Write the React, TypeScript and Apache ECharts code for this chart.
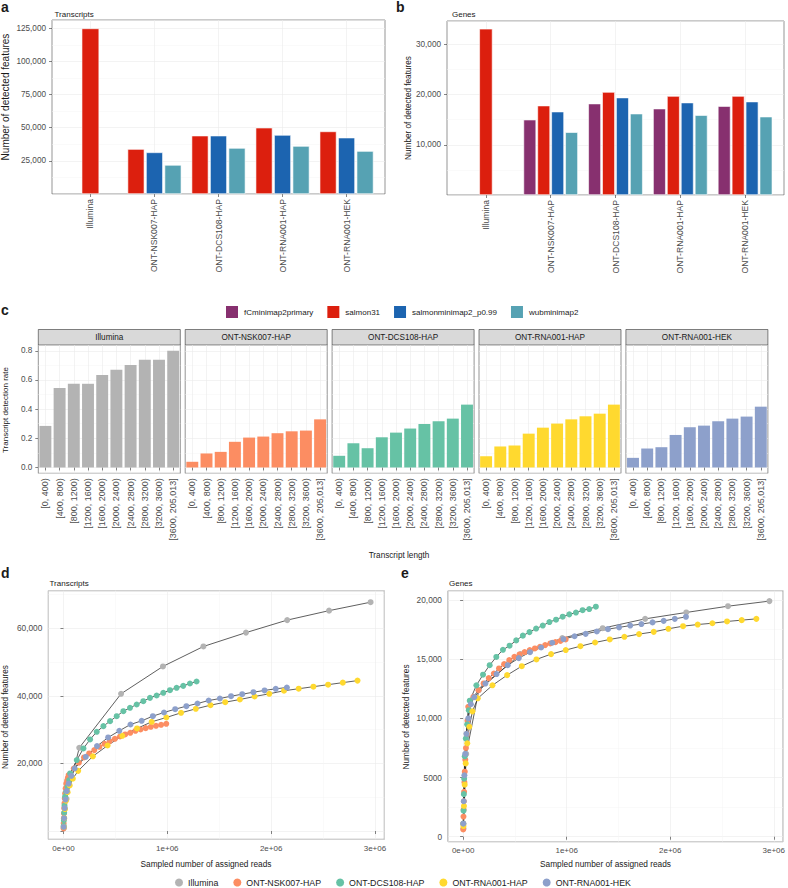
import React, { useEffect, useRef } from 'react';
import * as echarts from 'echarts';

const FONT = '"Liberation Sans", Arial, Helvetica, sans-serif';
const TXT = '#1A1A1A';
const TICKTXT = '#4D4D4D';

// ---------------- panels a & b ----------------
const sampleGroups = ['Illumina', 'ONT-NSK007-HAP', 'ONT-DCS108-HAP', 'ONT-RNA001-HAP', 'ONT-RNA001-HEK'];
const quantMethods = ['fCminimap2primary', 'salmon31', 'salmonminimap2_p0.99', 'wubminimap2'];
const methodColors = ['#87306F', '#DC1F0E', '#1C64B0', '#56A2B3'];

// transcripts (a) — '-' = method not run
const txSalmon31: any[] = [124900, 33900, 44000, 50000, 47200];
const txSalmonMinimap2: any[] = ['-', 31400, 44000, 44500, 42500];
const txWubminimap2: any[] = ['-', 21900, 34700, 36200, 32400];

// genes (b)
const geneFCminimap2: any[] = ['-', 15000, 18200, 17200, 17700];
const geneSalmon31: any[] = [33100, 17800, 20500, 19700, 19700];
const geneSalmonMinimap2: any[] = ['-', 16600, 19400, 18400, 18600];
const geneWubminimap2: any[] = ['-', 12500, 16200, 15900, 15600];

// ---------------- panel c ----------------
const lengthBins = ['[0, 400)', '[400, 800)', '[800, 1200)', '[1200, 1600)', '[1600, 2000)', '[2000, 2400)', '[2400, 2800)', '[2800, 3200)', '[3200, 3600)', '[3600, 205,013]'];
const rateIllumina = [0.285, 0.545, 0.574, 0.574, 0.634, 0.670, 0.702, 0.738, 0.738, 0.800];
const rateNSK007 = [0.039, 0.096, 0.107, 0.176, 0.205, 0.212, 0.235, 0.248, 0.253, 0.330];
const rateDCS108 = [0.080, 0.166, 0.132, 0.207, 0.239, 0.267, 0.298, 0.317, 0.335, 0.431];
const rateRNA001HAP = [0.077, 0.144, 0.150, 0.232, 0.273, 0.301, 0.330, 0.351, 0.369, 0.431];
const rateRNA001HEK = [0.066, 0.130, 0.139, 0.223, 0.276, 0.287, 0.317, 0.335, 0.349, 0.417];
const groupColors = ['#B3B3B3', '#FC8D62', '#66C2A5', '#FFD92F', '#8DA0CB'];

// ---------------- panels d & e ----------------
const readsIllumina = [3000, 30000, 152000, 555000, 958000, 1348000, 1758000, 2155000, 2558000, 2958000];
const txCurveIllumina = [800, 9500, 24600, 40600, 48700, 54600, 58700, 62400, 65200, 67700];
const geneCurveIllumina = [700, 7000, 12400, 15440, 16790, 17630, 18420, 18960, 19490, 19920];

const readsNSK007 = [1000, 2000, 3500, 5000, 7000, 9500, 12500, 16000, 21000, 27000, 35000, 42000, 49500, 99000, 148500, 198000, 247500, 297000, 346500, 396000, 445500, 495000, 544500, 594000, 643500, 693000, 742500, 792000, 841500, 891000, 940500, 990000];
const txCurveNSK007 = [790, 2270, 3740, 5220, 6700, 8180, 9650, 11130, 12610, 14000, 14900, 15700, 16550, 18500, 20190, 21770, 22950, 23940, 24920, 25810, 26600, 27280, 27970, 28570, 29060, 29650, 30040, 30440, 30830, 31130, 31420, 31720];
const geneCurveNSK007 = [620, 1100, 1700, 2300, 3000, 3800, 4600, 5500, 6500, 7500, 8700, 9800, 10990, 11830, 12390, 12960, 13410, 13800, 14230, 14590, 14930, 15210, 15410, 15610, 15780, 15920, 16060, 16200, 16340, 16450, 16560, 16680];

const readsDCS108 = [2000, 4000, 7000, 10000, 16000, 26000, 39000, 55000, 64100, 128200, 192300, 256400, 320500, 384600, 448700, 512800, 576900, 641000, 705100, 769200, 833300, 897400, 961500, 1025600, 1089700, 1153800, 1217900, 1282000];
const txCurveDCS108 = [1500, 3200, 5400, 7500, 10150, 11620, 13100, 15070, 17040, 20980, 24430, 27090, 29350, 31030, 32510, 33980, 35460, 36450, 37430, 38420, 39400, 40090, 40880, 41670, 42360, 42950, 43640, 44230];
const geneCurveDCS108 = [1100, 2200, 3600, 4900, 6800, 8300, 9500, 10700, 11500, 12800, 13700, 14500, 15200, 15800, 16150, 16600, 17000, 17300, 17600, 17850, 18150, 18350, 18600, 18800, 18950, 19150, 19250, 19450];

const readsRNA001HAP = [3000, 8000, 15000, 25000, 40000, 60000, 90000, 141600, 283200, 424800, 566400, 708000, 849600, 991200, 1132800, 1274400, 1416000, 1557600, 1699200, 1840800, 1982400, 2124000, 2265600, 2407200, 2548800, 2690400, 2832000];
const txCurveRNA001HAP = [1200, 3800, 6500, 9000, 11500, 13500, 15500, 17800, 22100, 25300, 28170, 30340, 32310, 33590, 34970, 36150, 37230, 38120, 38910, 39800, 40600, 41500, 42100, 42700, 43300, 43900, 44500];
const geneCurveRNA001HAP = [900, 2600, 4400, 6200, 7900, 9300, 10600, 11700, 12800, 13660, 14420, 14990, 15440, 15780, 16110, 16420, 16680, 16900, 17130, 17320, 17580, 17800, 17940, 18050, 18200, 18310, 18420];

const readsRNA001HEK = [2000, 6000, 12000, 20000, 32000, 50000, 75000, 107600, 215200, 322800, 430400, 538000, 645600, 753200, 860800, 968400, 1076000, 1183600, 1291200, 1398800, 1506400, 1614000, 1721600, 1829200, 1936800, 2044400, 2152000];
const txCurveRNA001HEK = [1200, 3800, 6800, 9300, 11800, 14000, 16300, 18500, 21960, 25120, 27680, 29650, 31520, 32600, 33980, 35070, 36050, 36940, 37730, 38610, 39200, 39890, 40480, 41070, 41600, 42070, 42460];
const geneCurveRNA001HEK = [1100, 3000, 5200, 7000, 8700, 10000, 11200, 11800, 12950, 13750, 14500, 15100, 15600, 16000, 16400, 16700, 16950, 17150, 17350, 17550, 17700, 17850, 17980, 18120, 18250, 18420, 18590];

// ---------------- helpers ----------------
const comma = (v: number) => Math.round(v).toLocaleString('en-US');
const tick = { show: true, length: 3, lineStyle: { color: '#333333', width: 0.6 } };
const major = { show: true, lineStyle: { color: '#EBEBEB', width: 0.6 } };
const minor = { show: true, lineStyle: { color: '#F4F4F4', width: 0.5 } };
const frame = { show: true, borderColor: '#4D4D4D', borderWidth: 0.6 };

function catAxis(gridIndex: number, data: string[], fontSize: number) {
  return {
    type: 'category', gridIndex, data,
    axisLine: { show: false },
    axisTick: { ...tick, alignWithLabel: true },
    axisLabel: { color: TICKTXT, fontFamily: FONT, fontSize, rotate: 90, margin: 5, interval: 0 },
    splitLine: { ...major, alignWithLabel: true, interval: 0 },
  };
}

function valAxis(gridIndex: number, opts: any, fontSize: number, formatter: any, showLabels = true) {
  return {
    type: 'value', gridIndex, ...opts,
    axisLine: { show: false },
    axisTick: showLabels ? tick : { show: false },
    axisLabel: { show: showLabels, color: TICKTXT, fontFamily: FONT, fontSize, margin: 6, formatter, showMinLabel: false, showMaxLabel: false },
    splitLine: major,
    minorTick: { show: false, splitNumber: 2 },
    minorSplitLine: minor,
  };
}

function text(t: string, x: number, y: number, size: number, extra: any = {}, rot = 0) {
  return {
    type: 'text', x, y, rotation: rot, silent: true,
    style: {
      text: t, fill: TXT, fontFamily: FONT, fontSize: size,
      align: extra.align || 'left', textAlign: extra.align || 'left',
      verticalAlign: 'middle', textVerticalAlign: 'middle',
      fontWeight: extra.bold ? 'bold' : 'normal',
    },
  };
}

function buildOption() {
  const grids: any[] = [];
  const xAxes: any[] = [];
  const yAxes: any[] = [];
  const series: any[] = [];
  const graphics: any[] = [];
  const barBorder = { borderColor: '#FFFFFF', borderWidth: 0.6 };

  // ---- panel a ----
  const aMax = 131250;
  grids.push({ left: 52, top: 20, width: 333, height: 174, ...frame });
  grids.push({ left: 58.4, top: 20, width: 320.2, height: 174 });
  xAxes.push({ type: 'value', gridIndex: 0, min: 0, max: 1, show: false });
  xAxes.push(catAxis(1, sampleGroups, 8.6));
  xAxes.push({ type: 'category', gridIndex: 1, data: sampleGroups, show: false });
  yAxes.push(valAxis(0, { min: 0, max: aMax, interval: 25000 }, 8.2, comma));
  yAxes.push({ type: 'value', gridIndex: 1, min: 0, max: aMax, show: false });
  const aSets = [txSalmon31, txSalmonMinimap2, txWubminimap2];
  aSets.forEach((arr, k) => {
    series.push({
      type: 'bar', name: quantMethods[k + 1], xAxisIndex: 1, yAxisIndex: 1,
      data: arr.map((v, i) => (i === 0 ? '-' : v)), barGap: '10%', barCategoryGap: '16%',
      itemStyle: { color: methodColors[k + 1], ...barBorder },
    });
  });
  series.push({
    type: 'bar', name: 'salmon31', xAxisIndex: 2, yAxisIndex: 1,
    data: txSalmon31.map((v, i) => (i === 0 ? v : '-')), barWidth: 17.5,
    itemStyle: { color: methodColors[1], ...barBorder },
  });

  // ---- panel b ----
  const bMax = 34650;
  grids.push({ left: 447, top: 21, width: 337, height: 174, ...frame });
  grids.push({ left: 453.5, top: 21, width: 324, height: 174 });
  xAxes.push({ type: 'value', gridIndex: 2, min: 0, max: 1, show: false });
  xAxes.push(catAxis(3, sampleGroups, 8.6));
  xAxes.push({ type: 'category', gridIndex: 3, data: sampleGroups, show: false });
  yAxes.push(valAxis(2, { min: 0, max: bMax, interval: 10000 }, 8.2, comma));
  yAxes.push({ type: 'value', gridIndex: 3, min: 0, max: bMax, show: false });
  const bSets = [geneFCminimap2, geneSalmon31, geneSalmonMinimap2, geneWubminimap2];
  bSets.forEach((arr, k) => {
    series.push({
      type: 'bar', name: quantMethods[k], xAxisIndex: 4, yAxisIndex: 3,
      data: arr.map((v, i) => (i === 0 ? '-' : v)), barGap: '10%', barCategoryGap: '16%',
      itemStyle: { color: methodColors[k], ...barBorder },
    });
  });
  series.push({
    type: 'bar', name: 'salmon31', xAxisIndex: 5, yAxisIndex: 3,
    data: geneSalmon31.map((v, i) => (i === 0 ? v : '-')), barWidth: 13.2,
    itemStyle: { color: methodColors[1], ...barBorder },
  });

  // ---- panel c (facets) ----
  const rates = [rateIllumina, rateNSK007, rateDCS108, rateRNA001HAP, rateRNA001HEK];
  const facetLefts = [38.3, 185.2, 332.1, 479, 625.9];
  const facetW = 142;
  const facetTop = 345;
  const facetH = 128.3;
  rates.forEach((arr, i) => {
    grids.push({ left: facetLefts[i], top: facetTop, width: facetW, height: facetH, ...frame });
    xAxes.push(catAxis(4 + i, lengthBins, 9));
    yAxes.push(valAxis(4 + i, { min: -0.04, max: 0.84, splitNumber: 5 }, 8.2, (v: number) => v.toFixed(1), i === 0));
    series.push({
      type: 'bar', name: 'rate ' + sampleGroups[i], xAxisIndex: 6 + i, yAxisIndex: 4 + i,
      data: arr, barCategoryGap: '16%', itemStyle: { color: groupColors[i] },
    });
    graphics.push({
      type: 'rect', silent: true,
      shape: { x: facetLefts[i], y: 329.5, width: facetW, height: 15.5 },
      style: { fill: '#D9D9D9', stroke: '#333333', lineWidth: 0.6 },
    });
    graphics.push(text(sampleGroups[i], facetLefts[i] + facetW / 2, 337.4, 8.2, { align: 'center' }));
  });

  // ---- panels d & e ----
  const curves = [
    { name: sampleGroups[0], reads: readsIllumina, tx: txCurveIllumina, genes: geneCurveIllumina, color: groupColors[0] },
    { name: sampleGroups[1], reads: readsNSK007, tx: txCurveNSK007, genes: geneCurveNSK007, color: groupColors[1] },
    { name: sampleGroups[2], reads: readsDCS108, tx: txCurveDCS108, genes: geneCurveDCS108, color: groupColors[2] },
    { name: sampleGroups[3], reads: readsRNA001HAP, tx: txCurveRNA001HAP, genes: geneCurveRNA001HAP, color: groupColors[3] },
    { name: sampleGroups[4], reads: readsRNA001HEK, tx: txCurveRNA001HEK, genes: geneCurveRNA001HEK, color: groupColors[4] },
  ];
  const sciFmt = (v: number) => (v === 0 ? '0e+00' : `${Math.round(v / 1e6)}e+06`);
  // d
  grids.push({ left: 48.3, top: 590.7, width: 336, height: 248.6, ...frame });
  xAxes.push(valAxis(9, { min: -146000, max: 3090000, splitNumber: 3 }, 8, sciFmt));
  yAxes.push(valAxis(9, { min: -2450, max: 71100, splitNumber: 4 }, 8.3, (v: number) => (v === 0 ? '' : comma(v))));
  // e
  grids.push({ left: 448, top: 590.7, width: 335.3, height: 251, ...frame });
  xAxes.push(valAxis(10, { min: -146000, max: 3090000, splitNumber: 3 }, 8, sciFmt));
  yAxes.push(valAxis(10, { min: -420, max: 20800, splitNumber: 5 }, 8.3, (v: number) => (v >= 10000 ? comma(v) : String(v))));
  xAxes[11].axisLabel.margin = 5;
  xAxes[12].axisLabel.margin = 5;

  [[11, 9, 'tx'], [12, 10, 'genes']].forEach(([xi, yi, key]: any) => {
    curves.forEach((c: any) => {
      series.push({
        type: 'line', name: c.name + ' path', xAxisIndex: xi, yAxisIndex: yi,
        data: c.reads.map((r: number, i: number) => [r, c[key][i]]),
        showSymbol: false, symbol: 'none', silent: true, z: 2,
        lineStyle: { color: '#1A1A1A', width: 0.7 },
      });
    });
    curves.forEach((c: any) => {
      series.push({
        type: 'scatter', name: c.name, xAxisIndex: xi, yAxisIndex: yi,
        data: c.reads.map((r: number, i: number) => [r, c[key][i]]),
        symbolSize: 6, z: 3, itemStyle: { color: c.color, opacity: 1 },
      });
    });
  });

  // ---- texts ----
  graphics.push(text('a', 1, 7, 14, { bold: true }));
  graphics.push(text('b', 396, 7, 14, { bold: true }));
  graphics.push(text('c', 1, 310, 14, { bold: true }));
  graphics.push(text('d', 1, 573, 14, { bold: true }));
  graphics.push(text('e', 401, 573, 14, { bold: true }));
  graphics.push(text('Transcripts', 54.5, 14, 8));
  graphics.push(text('Genes', 452, 14, 8));
  graphics.push(text('Transcripts', 49.5, 583, 8));
  graphics.push(text('Genes', 449, 583, 8));
  graphics.push(text('Number of detected features', 5, 97, 10, { align: 'center' }, Math.PI / 2));
  graphics.push(text('Number of detected features', 408, 108, 8.2, { align: 'center' }, Math.PI / 2));
  graphics.push(text('Transcript detection rate', 5, 410, 8, { align: 'center' }, Math.PI / 2));
  graphics.push(text('Number of detected features', 5, 717, 8.2, { align: 'center' }, Math.PI / 2));
  graphics.push(text('Number of detected features', 406, 717, 8.3, { align: 'center' }, Math.PI / 2));
  graphics.push(text('Transcript length', 399, 555, 8.2, { align: 'center' }));
  graphics.push(text('Sampled number of assigned reads', 206, 864, 8.3, { align: 'center' }));
  graphics.push(text('Sampled number of assigned reads', 605.5, 864, 8.3, { align: 'center' }));

  return {
    animation: false,
    backgroundColor: '#FFFFFF',
    textStyle: { fontFamily: FONT },
    grid: grids,
    xAxis: xAxes,
    yAxis: yAxes,
    legend: [
      {
        data: quantMethods, left: 224, top: 304, padding: 0,
        itemWidth: 14, itemHeight: 14, itemGap: 12, icon: 'rect',
        textStyle: { fontSize: 8, color: TXT, fontFamily: FONT },
      },
      {
        data: sampleGroups, left: 175, top: 878, padding: 0,
        itemWidth: 8, itemHeight: 8, itemGap: 15, icon: 'circle',
        textStyle: { fontSize: 8.8, color: TXT, fontFamily: FONT },
      },
    ],
    graphic: graphics,
    series,
  };
}

export default function App() {
  const ref = useRef<HTMLDivElement>(null);
  useEffect(() => {
    const chart = echarts.init(ref.current as HTMLDivElement, undefined, { renderer: 'svg' });
    chart.setOption(buildOption() as any);
    return () => chart.dispose();
  }, []);
  return (
    <div
      ref={ref}
      style={{ position: 'absolute', left: 0, top: 0, width: 788, height: 888, background: '#FFFFFF' }}
    />
  );
}
